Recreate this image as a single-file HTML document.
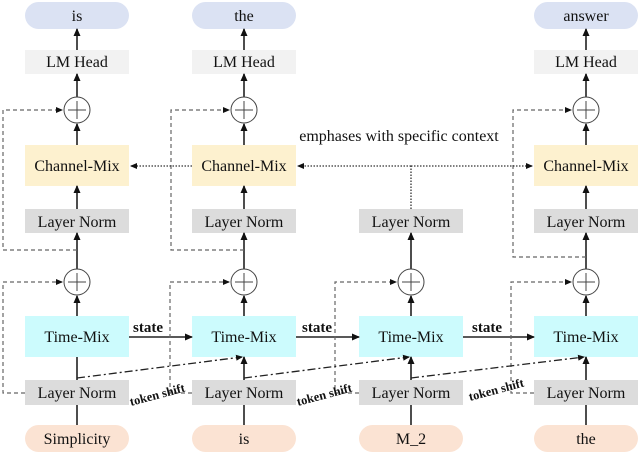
<!DOCTYPE html>
<html><head><meta charset="utf-8"><style>
body{margin:0;background:#fff}
svg text{font-family:"Liberation Serif","Times New Roman",Times,"Nimbus Roman","DejaVu Serif","Noto Serif CJK SC",serif !important;fill:#111}
</style></head><body>
<svg width="640" height="454" viewBox="0 0 640 454" xmlns="http://www.w3.org/2000/svg" font-family="'Liberation Serif', 'Times New Roman', serif" font-size="16">
<defs>
<marker id="a" markerWidth="8" markerHeight="8" refX="7" refY="4" orient="auto" markerUnits="userSpaceOnUse"><path d="M0,0.5 L8,4 L0,7.5z" fill="#111"/></marker>
<marker id="s" markerWidth="7" markerHeight="7" refX="6" refY="3.5" orient="auto" markerUnits="userSpaceOnUse"><path d="M0,0.5 L7,3.5 L0,6.5z" fill="#111"/></marker>
</defs>
<g>
<rect x="25" y="2" width="104" height="27" rx="13.5" fill="#dbe2f3"/><text x="77" y="21" text-anchor="middle">is</text>
<rect x="25" y="50" width="104" height="24" fill="#f2f2f2"/><text x="77" y="67" text-anchor="middle">LM Head</text>
<rect x="25" y="145" width="104" height="41" fill="#fdf1cf"/><text x="77" y="171" text-anchor="middle">Channel-Mix</text>
<rect x="25" y="209" width="104" height="24" fill="#dcdcdc"/><text x="77" y="227" text-anchor="middle">Layer Norm</text>
</g>
<g>
<rect x="192" y="2" width="104" height="27" rx="13.5" fill="#dbe2f3"/><text x="244" y="21" text-anchor="middle">the</text>
<rect x="192" y="50" width="104" height="24" fill="#f2f2f2"/><text x="244" y="67" text-anchor="middle">LM Head</text>
<rect x="192" y="145" width="104" height="41" fill="#fdf1cf"/><text x="244" y="171" text-anchor="middle">Channel-Mix</text>
<rect x="192" y="209" width="104" height="24" fill="#dcdcdc"/><text x="244" y="227" text-anchor="middle">Layer Norm</text>
</g>
<g>
<rect x="534" y="2" width="104" height="27" rx="13.5" fill="#dbe2f3"/><text x="586" y="21" text-anchor="middle">answer</text>
<rect x="534" y="50" width="104" height="24" fill="#f2f2f2"/><text x="586" y="67" text-anchor="middle">LM Head</text>
<rect x="534" y="145" width="104" height="41" fill="#fdf1cf"/><text x="586" y="171" text-anchor="middle">Channel-Mix</text>
<rect x="534" y="209" width="104" height="24" fill="#dcdcdc"/><text x="586" y="227" text-anchor="middle">Layer Norm</text>
</g>
<rect x="359" y="209" width="104" height="24" fill="#dcdcdc"/><text x="411" y="227" text-anchor="middle">Layer Norm</text>

<g>
<rect x="25" y="316" width="104" height="41" fill="#ccfbfd"/><text x="77" y="342" text-anchor="middle">Time-Mix</text>
<rect x="25" y="380" width="104" height="25" fill="#dcdcdc"/><text x="77" y="398" text-anchor="middle">Layer Norm</text>
<rect x="25" y="425" width="104" height="27" rx="13.5" fill="#fbe3d3"/><text x="77" y="444" text-anchor="middle">Simplicity</text>
<rect x="192" y="316" width="104" height="41" fill="#ccfbfd"/><text x="244" y="342" text-anchor="middle">Time-Mix</text>
<rect x="192" y="380" width="104" height="25" fill="#dcdcdc"/><text x="244" y="398" text-anchor="middle">Layer Norm</text>
<rect x="192" y="425" width="104" height="27" rx="13.5" fill="#fbe3d3"/><text x="244" y="444" text-anchor="middle">is</text>
<rect x="359" y="316" width="104" height="41" fill="#ccfbfd"/><text x="411" y="342" text-anchor="middle">Time-Mix</text>
<rect x="359" y="380" width="104" height="25" fill="#dcdcdc"/><text x="411" y="398" text-anchor="middle">Layer Norm</text>
<rect x="359" y="425" width="104" height="27" rx="13.5" fill="#fbe3d3"/><text x="411" y="444" text-anchor="middle">M_2</text>
<rect x="534" y="316" width="104" height="41" fill="#ccfbfd"/><text x="586" y="342" text-anchor="middle">Time-Mix</text>
<rect x="534" y="380" width="104" height="25" fill="#dcdcdc"/><text x="586" y="398" text-anchor="middle">Layer Norm</text>
<rect x="534" y="425" width="104" height="27" rx="13.5" fill="#fbe3d3"/><text x="586" y="444" text-anchor="middle">the</text>
</g>

<g stroke="#222" stroke-width="1.6" fill="none">
<line x1="77" y1="425" x2="77" y2="405"/><line x1="77" y1="380" x2="77" y2="357"/>
<line x1="77" y1="316" x2="77" y2="296" marker-end="url(#a)"/>
<line x1="77" y1="269" x2="77" y2="233" marker-end="url(#a)"/>
<line x1="77" y1="209" x2="77" y2="186" marker-end="url(#a)"/>
<line x1="77" y1="145" x2="77" y2="124" marker-end="url(#a)"/>
<line x1="77" y1="97" x2="77" y2="74" marker-end="url(#a)"/>
<line x1="77" y1="50" x2="77" y2="29" marker-end="url(#a)"/>

<line x1="244" y1="425" x2="244" y2="405"/><line x1="244" y1="380" x2="244" y2="357" marker-end="url(#a)"/>
<line x1="244" y1="316" x2="244" y2="296" marker-end="url(#a)"/>
<line x1="244" y1="269" x2="244" y2="233" marker-end="url(#a)"/>
<line x1="244" y1="209" x2="244" y2="186" marker-end="url(#a)"/>
<line x1="244" y1="145" x2="244" y2="124" marker-end="url(#a)"/>
<line x1="244" y1="97" x2="244" y2="74" marker-end="url(#a)"/>
<line x1="244" y1="50" x2="244" y2="29" marker-end="url(#a)"/>

<line x1="411" y1="425" x2="411" y2="405"/><line x1="411" y1="380" x2="411" y2="357" marker-end="url(#a)"/>
<line x1="411" y1="316" x2="411" y2="296" marker-end="url(#a)"/>
<line x1="411" y1="269" x2="411" y2="233" marker-end="url(#a)"/>

<line x1="586" y1="425" x2="586" y2="405"/><line x1="586" y1="380" x2="586" y2="357" marker-end="url(#a)"/>
<line x1="586" y1="316" x2="586" y2="296" marker-end="url(#a)"/>
<line x1="586" y1="269" x2="586" y2="233" marker-end="url(#a)"/>
<line x1="586" y1="209" x2="586" y2="186" marker-end="url(#a)"/>
<line x1="586" y1="145" x2="586" y2="124" marker-end="url(#a)"/>
<line x1="586" y1="97" x2="586" y2="74" marker-end="url(#a)"/>
<line x1="586" y1="50" x2="586" y2="29" marker-end="url(#a)"/>

<line x1="129" y1="337" x2="192" y2="337" marker-end="url(#a)"/>
<line x1="296" y1="337" x2="359" y2="337" marker-end="url(#a)"/>
<line x1="463" y1="337" x2="534" y2="337" marker-end="url(#a)"/>
</g>
<g stroke="#444" stroke-width="1" fill="#fff">
<circle cx="77" cy="110" r="13"/><circle cx="244" cy="110" r="13"/><circle cx="586" cy="110" r="13"/>
<circle cx="77" cy="282" r="13"/><circle cx="244" cy="282" r="13"/><circle cx="411" cy="282" r="13"/><circle cx="586" cy="282" r="13"/>
</g>
<g stroke="#444" stroke-width="1">
<path d="M68,110h18M77,101v18M235,110h18M244,101v18M577,110h18M586,101v18M68,282h18M77,273v18M235,282h18M244,273v18M402,282h18M411,273v18M577,282h18M586,273v18"/>
</g>
<g stroke="#666" stroke-width="1.2" fill="none" stroke-dasharray="4,3">
<path d="M25,393H3V282H62" marker-end="url(#s)"/>
<path d="M77,250H3V110H62" marker-end="url(#s)"/>
<path d="M192,393H170V282H229" marker-end="url(#s)"/>
<path d="M244,250H171V110H229" marker-end="url(#s)"/>
<path d="M359,393H335V282H396" marker-end="url(#s)"/>
<path d="M534,393H511V282H571" marker-end="url(#s)"/>
<path d="M586,257H513V110H571" marker-end="url(#s)"/>
</g>
<g stroke="#333" stroke-width="1.3" fill="none" stroke-dasharray="1.5,1.5">
<line x1="192" y1="166" x2="131" y2="166" marker-end="url(#s)"/>
<line x1="411" y1="166" x2="298" y2="166" marker-end="url(#s)"/>
<line x1="411" y1="166" x2="532" y2="166" marker-end="url(#s)"/>
<line x1="411" y1="209" x2="411" y2="166"/>
</g>
<text x="399" y="141" text-anchor="middle">emphases with specific context</text>
<g stroke="#222" stroke-width="1.3" fill="none" stroke-dasharray="8,3,2,3">
<path d="M77,378L242,357" marker-end="url(#s)"/>
<path d="M244,378L409,357" marker-end="url(#s)"/>
<path d="M411,378L584,357" marker-end="url(#s)"/>
</g>
<g font-weight="bold">
<text x="148" y="332" text-anchor="middle" font-size="15" font-weight="bold">state</text>
<text x="317" y="332" text-anchor="middle" font-size="15" font-weight="bold">state</text>
<text x="487" y="332" text-anchor="middle" font-size="15" font-weight="bold">state</text>
<text transform="translate(131,406) rotate(-15)" font-size="12.5" font-weight="bold">token shift</text>
<text transform="translate(298,406) rotate(-15)" font-size="12.5" font-weight="bold">token shift</text>
<text transform="translate(470,401) rotate(-15)" font-size="12.5" font-weight="bold">token shift</text>
</g>
</svg>
</body></html>
